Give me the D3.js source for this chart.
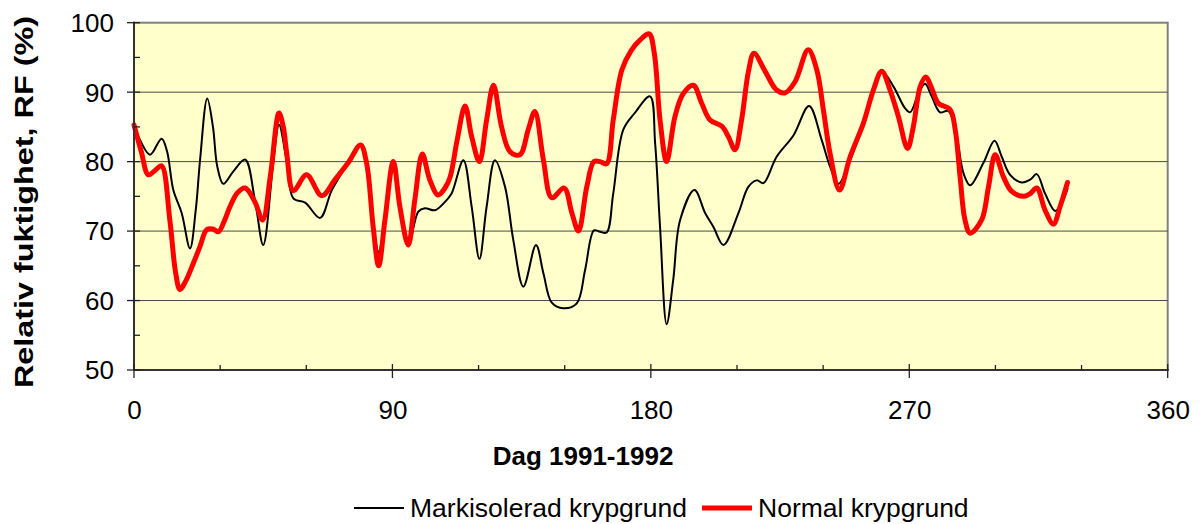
<!DOCTYPE html>
<html>
<head>
<meta charset="utf-8">
<script src="https://cdn.jsdelivr.net/npm/d3@7"></script>
<style>
  html, body { margin: 0; padding: 0; background: #ffffff; }
  svg { display: block; }
  text { font-family: "Liberation Sans", Arial, sans-serif; fill: #000; }
</style>
</head>
<body>
<svg id="chart" width="1200" height="524"></svg>
<script>
// ---------- data ----------
const seriesNames = ["Markisolerad krypgrund", "Normal krypgrund"];

const markDay = [0, 2.1, 5.6, 9.6, 11.5, 13.7, 16.6, 19.5, 21.5, 23, 25.5, 27.5, 29, 31.1, 34.6, 38.7, 42.1, 45, 48.5, 50.5,
  53.2, 55.5, 59.6, 64.8, 68.9, 74.7, 78.9, 81.0, 83.3, 85.2, 87.4, 90.3, 92.6, 95.5, 99.0, 101.3, 104.8, 108.3, 110.6,
  114.7, 117.6, 120.3, 122.8, 125.7, 129.2, 132.1, 135.6, 140.0, 142.6, 145.5, 149.5, 154.2, 157.1, 160.2, 162.3, 164.6,
  166.9, 170.4, 174.4, 179.7, 181.5, 183.2, 185.5, 187.8, 190.2, 195.2, 198.9, 201.8, 205.3, 210.5, 214.0, 216.9, 219.2,
  223.8, 229.7, 235.1, 239.5, 242.4, 245.3, 249.4, 254.0, 257.5, 260.4, 264.5, 268.5, 270.3, 273.2, 275.5, 277.8, 280.7,
  283.6, 286.5, 288.9, 291.2, 295.8, 299.7, 302.2, 305.1, 309.2, 312.1, 314.4, 317.3, 320.8, 323.1, 325.2];
const markRF = [85.3, 83.1, 81.0, 83.3, 81.5, 75.9, 72.6, 67.5, 73, 80.2, 89.1, 85, 79.3, 76.8, 78.6, 80.3, 74.5, 68.0, 79.8, 85.3,
  80, 74.7, 74.1, 71.9, 75.9, 79.9, 82.4, 79.8, 71, 67.0, 71.6, 80.0, 73.5, 67.8, 72.8, 73.3, 73.0, 74.2, 75.4,
  80.2, 73.5, 66.0, 73.5, 80.2, 76.4, 68.7, 62.0, 68.0, 63.9, 59.7, 58.9, 59.6, 64.4, 70.1, 69.9, 69.8,
  75.4, 84.6, 87.0, 89.4, 82.6, 70.6, 56.6, 63.0, 71.6, 75.9, 72.6, 70.6, 68.0, 72.6, 76.4, 77.3, 76.9,
  80.7, 83.8, 88.0, 83.1, 79.3, 76.8, 80.2, 85.5, 90.3, 93.0, 90.8, 87.7, 87.1, 89.8, 91.2, 89.4, 87.1,
  87.3, 83.6, 78.3, 76.6, 79.8, 83.0, 80.7, 78.1, 77.0, 77.4, 78.2, 75.4, 72.9, 74.0, 76.2];

const normDay = [0, 2.5, 5.0, 7.5, 9.6, 12.5, 14.5, 16.0, 18, 20.7, 23, 25.3, 27.5, 29.4, 31.5, 33.4, 36, 38.7, 42.1, 44.8,
  47.5, 50.5, 52.0, 53.2, 55.5, 60.1, 65.4, 70.0, 74.7, 78.9, 81.0, 83.3, 85.2, 87.4, 90.3, 92.6, 95.5, 97.8, 100.4,
  103.0, 105.9, 108.3, 110.1, 112.5, 115.3, 117.6, 120.3, 122.8, 125.2, 128.0, 131.0, 134.4, 137.3, 139.6, 142.6, 145.5,
  149.8, 152.5, 154.8, 157.7, 160.2, 162.3, 164.6, 166.9, 169.9, 173.3, 176.2, 179.4, 181.2, 183.2, 185.5, 188.4, 191.3,
  194.8, 197.7, 200.6, 204.7, 207.0, 209.3, 211.6, 214.0, 215.9, 219.8, 223.8, 226.7, 230.2, 234.8, 237.8, 240.1, 242.4,
  245.7, 249.4, 254.0, 257.5, 260.4, 263.3, 266.2, 269.4, 271.4, 273.8, 275.7, 277.8, 280.1, 284.2, 286.0, 287.7, 289.4,
  291.2, 295.2, 297.6, 299.9, 302.8, 305.7, 309.8, 312.1, 314.4, 317.3, 320.2, 322.5, 325.1];
const normRF = [85.3, 81.5, 78.1, 78.8, 79.4, 71.5, 64, 61.6, 62.8, 65.4, 67.8, 70.2, 70.3, 69.9, 71.5, 73.5, 75.5, 76.2, 74.2, 71.6,
  78, 87.0, 85.0, 81.2, 75.8, 78.1, 75.1, 77.4, 79.9, 82.4, 79.8, 70.6, 65.0, 71.6, 80.0, 73.5, 68.0, 74.5, 81.1,
  77.4, 75.2, 76.2, 77.8, 83, 88.0, 83.6, 80.0, 86.0, 91.0, 85.0, 81.4, 81.0, 84.6, 87.2, 80.2, 74.8,
  76.2, 72.6, 70.0, 76.4, 80.0, 80.0, 79.7, 86.0, 93.2, 96.1, 97.5, 98.4, 95.6, 86.0, 80.0, 86.5, 89.8,
  91.0, 88.4, 86.0, 85.1, 83.6, 81.7, 86.0, 93.0, 95.6, 93.0, 90.3, 89.9, 91.5, 96.1, 93.2, 87.4, 81.2,
  75.9, 80.7, 85.5, 90.3, 93.0, 90.3, 86.5, 81.9, 85.0, 90.8, 92.2, 90.6, 88.4, 87.5, 84.6, 77.8, 71.6,
  69.7, 71.6, 76.4, 81.0, 77.8, 75.7, 75.0, 75.4, 76.2, 73.0, 71.0, 73.5, 77.0];

const xMajorTicks = [0, 90, 180, 270, 360];
const xMinorTicks = [30, 60, 120, 150, 210, 240, 300, 330];
const yMajorTicks = [50, 60, 70, 80, 90, 100];
const yMinorTicks = [55, 65, 75, 85, 95];
const yGrid = [60, 70, 80, 90];

const xTitle = "Dag 1991-1992";
const yTitle = "Relativ fuktighet, RF (%)";

// ---------- drawing ----------
const svg = d3.select("#chart");
const L = 134, R = 1167.7, T = 22.7, B = 370;
const x = d3.scaleLinear().domain([0, 360]).range([L, R]);
const y = d3.scaleLinear().domain([50, 100]).range([B, T]);

// plot background
svg.append("rect").attr("x", L).attr("y", T).attr("width", R - L).attr("height", B - T)
  .attr("fill", "#FFFFCC").attr("stroke", "#808080").attr("stroke-width", 2);

// grid lines
svg.append("g").selectAll("line").data(yGrid).join("line")
  .attr("x1", L).attr("x2", R).attr("y1", d => y(d)).attr("y2", d => y(d))
  .attr("stroke", "#4a4a4a").attr("stroke-width", 1);

// lines
const curve = d3.curveCatmullRom.alpha(0.5);
const mkLine = (days, vals) => d3.line().x((d, i) => x(days[i])).y((d, i) => y(vals[i])).curve(curve)(vals);

svg.append("path").attr("d", mkLine(markDay, markRF))
  .attr("fill", "none").attr("stroke", "#000000").attr("stroke-width", 2).attr("stroke-linejoin", "round");
svg.append("path").attr("d", mkLine(normDay, normRF))
  .attr("fill", "none").attr("stroke", "#FF0000").attr("stroke-width", 5).attr("stroke-linejoin", "round").attr("stroke-linecap", "round");

// axes lines
svg.append("line").attr("x1", L).attr("x2", L).attr("y1", T - 1).attr("y2", B + 1)
  .attr("stroke", "#333").attr("stroke-width", 2);
svg.append("line").attr("x1", L - 1).attr("x2", R + 1).attr("y1", B).attr("y2", B)
  .attr("stroke", "#333").attr("stroke-width", 2);

// ticks
const tg = svg.append("g").attr("stroke", "#222").attr("stroke-width", 1.3);
tg.selectAll(".xM").data(xMajorTicks).join("line")
  .attr("x1", d => x(d)).attr("x2", d => x(d)).attr("y1", B - 6).attr("y2", B + 8);
tg.selectAll(".xm").data(xMinorTicks).join("line")
  .attr("x1", d => x(d)).attr("x2", d => x(d)).attr("y1", B - 5).attr("y2", B);
tg.selectAll(".yM").data(yMajorTicks).join("line")
  .attr("x1", L - 7).attr("x2", L + 6).attr("y1", d => y(d)).attr("y2", d => y(d));
tg.selectAll(".ym").data(yMinorTicks).join("line")
  .attr("x1", L).attr("x2", L + 6).attr("y1", d => y(d)).attr("y2", d => y(d));

// tick labels via d3 axes
const xAxis = d3.axisBottom(x).tickValues(xMajorTicks).tickSize(0).tickPadding(0).tickFormat(d3.format("d"));
const gx = svg.append("g").attr("transform", `translate(0,${B})`).call(xAxis);
gx.select(".domain").remove();
gx.selectAll("text").attr("font-size", 26).attr("font-family", "'Liberation Sans', Arial, sans-serif")
  .attr("fill", "#000").attr("dy", null).attr("y", 49);

const yAxis = d3.axisLeft(y).tickValues(yMajorTicks).tickSize(0).tickPadding(0).tickFormat(d3.format("d"));
const gy = svg.append("g").attr("transform", `translate(${L},0)`).call(yAxis);
gy.select(".domain").remove();
gy.selectAll("text").attr("font-size", 26).attr("font-family", "'Liberation Sans', Arial, sans-serif")
  .attr("fill", "#000").attr("x", -20).attr("dy", "0.34em");

// axis titles
svg.append("text").attr("x", 583).attr("y", 465).attr("text-anchor", "middle")
  .attr("font-size", 26).attr("font-weight", "bold").text(xTitle);
svg.append("text").attr("transform", "translate(33,202) rotate(-90)").attr("text-anchor", "middle")
  .attr("font-size", 25).attr("font-weight", "bold")
  .attr("textLength", 372).attr("lengthAdjust", "spacingAndGlyphs").text(yTitle);

// legend
const legend = [
  { name: seriesNames[0], color: "#000000", w: 2, x0: 354 },
  { name: seriesNames[1], color: "#FF0000", w: 5, x0: 702 }
];
const lg = svg.append("g");
legend.forEach(it => {
  lg.append("line").attr("x1", it.x0).attr("x2", it.x0 + 50).attr("y1", 508).attr("y2", 508)
    .attr("stroke", it.color).attr("stroke-width", it.w);
  lg.append("text").attr("x", it.x0 + 56).attr("y", 517).attr("font-size", 26.5).text(it.name);
});
</script>
</body>
</html>
